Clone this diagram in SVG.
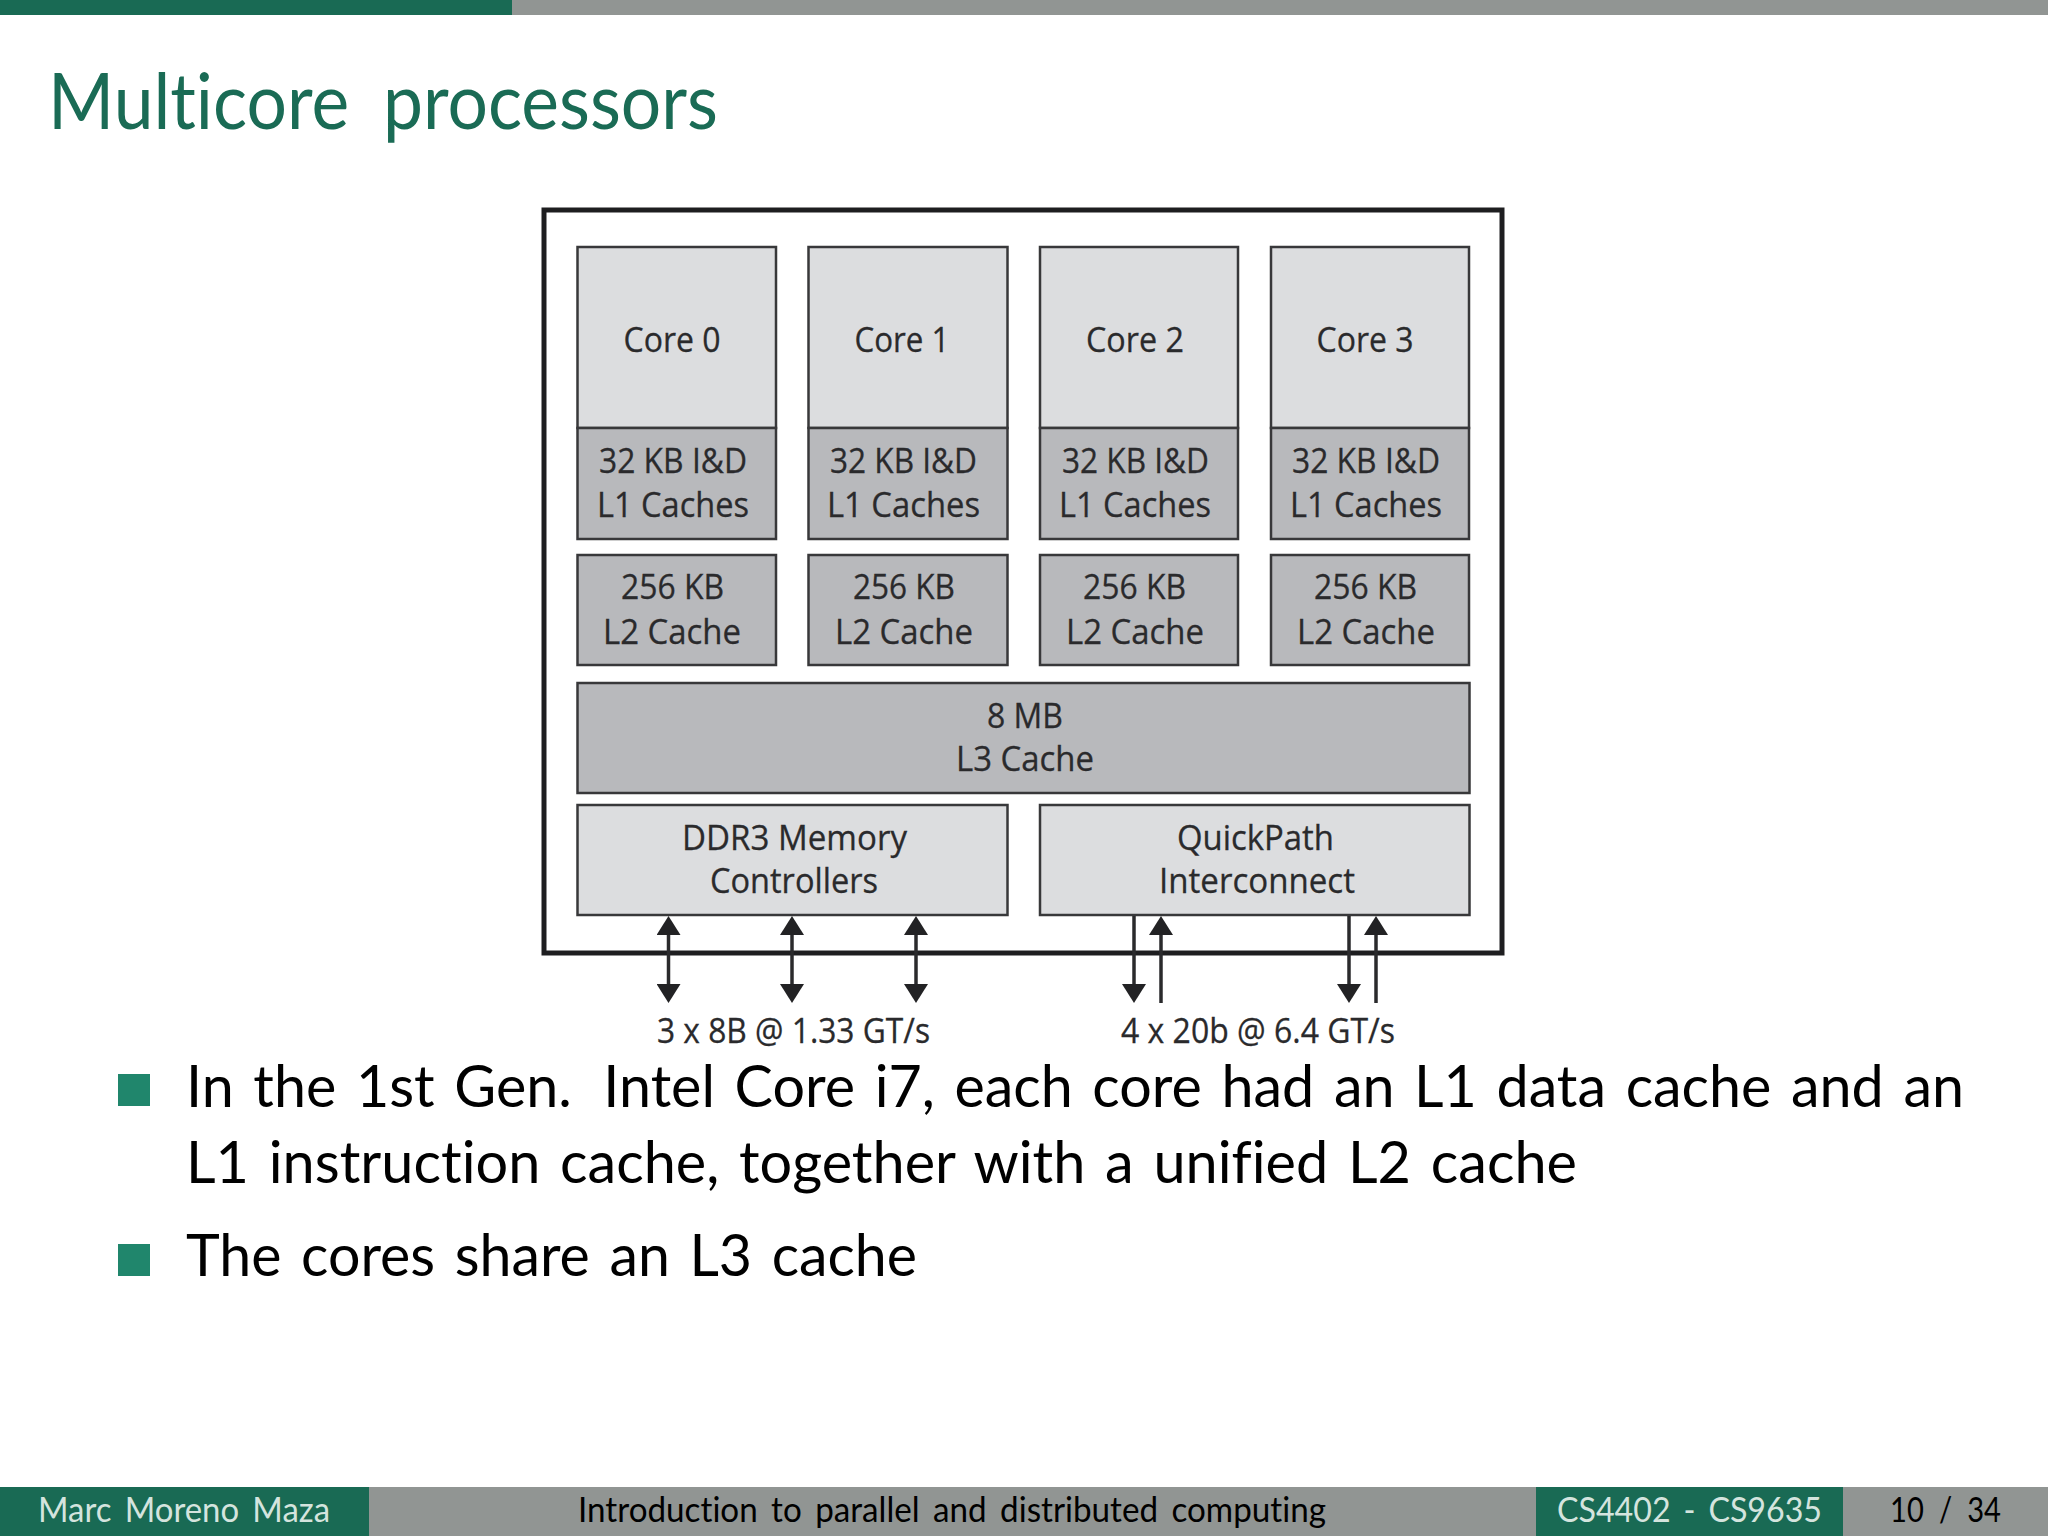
<svg xmlns="http://www.w3.org/2000/svg" width="2048" height="1536" viewBox="0 0 2048 1536">
<style>
text{font-family:"Lato","Open Sans",sans-serif;font-variant-ligatures:none}
.fig{font-family:"Open Sans","Noto Sans",sans-serif;font-size:35px;fill:#2a2a2c;stroke:#2a2a2c;stroke-width:.3}
.lt{fill:#dcdddf;stroke:#38383a;stroke-width:2.5}
.dk{fill:#b8b9bc;stroke:#38383a;stroke-width:2.5}
.body{font-size:58px;fill:#000;word-spacing:5px}
.foot{font-size:34px;word-spacing:5px}
.fw{fill:#d4e4de}
.fk{fill:#000}
.wire{stroke:#2a2a2c;stroke-width:3.5;fill:none}
.bullet{fill:#20866c}
</style>
<defs>
<marker id="head" markerUnits="userSpaceOnUse" markerWidth="24" markerHeight="24" refX="15" refY="12" orient="auto-start-reverse"><path d="M0 0L19 12L0 24z" fill="#222224"/></marker>
</defs>
<rect width="2048" height="1536" fill="#fff"/>
<g id="topbar"><rect x="0" y="0" width="2048" height="15" fill="#919593"/><rect x="0" y="0" width="512" height="15" fill="#196a54"/></g>
<text id="title" x="48" y="129" font-size="78" fill="#1a6b55" style="word-spacing:17px" textLength="670" lengthAdjust="spacingAndGlyphs">Multicore processors</text>
<rect id="chip" x="544" y="210" width="958" height="743" fill="#fff" stroke="#1e1e20" stroke-width="5"/>

<g id="core0"><rect class="lt" x="577.5" y="247" width="198.5" height="181"/><text class="fig" x="623.5" y="352" textLength="97" lengthAdjust="spacingAndGlyphs">Core 0</text></g>
<g id="core1"><rect class="lt" x="808.5" y="247" width="199" height="181"/><text class="fig" x="854.5" y="352" textLength="95" lengthAdjust="spacingAndGlyphs">Core 1</text></g>
<g id="core2"><rect class="lt" x="1040" y="247" width="198" height="181"/><text class="fig" x="1086" y="352" textLength="98" lengthAdjust="spacingAndGlyphs">Core 2</text></g>
<g id="core3"><rect class="lt" x="1271" y="247" width="198" height="181"/><text class="fig" x="1316.5" y="352" textLength="97" lengthAdjust="spacingAndGlyphs">Core 3</text></g>

<g id="l1-0"><rect class="dk" x="577.5" y="428" width="198.5" height="111"/><text class="fig" x="599" y="473" textLength="148" lengthAdjust="spacingAndGlyphs">32 KB I&amp;D</text><text class="fig" x="597" y="517" textLength="152" lengthAdjust="spacingAndGlyphs">L1 Caches</text></g>
<g id="l1-1"><rect class="dk" x="808.5" y="428" width="199" height="111"/><text class="fig" x="830" y="473" textLength="147" lengthAdjust="spacingAndGlyphs">32 KB I&amp;D</text><text class="fig" x="827" y="517" textLength="153" lengthAdjust="spacingAndGlyphs">L1 Caches</text></g>
<g id="l1-2"><rect class="dk" x="1040" y="428" width="198" height="111"/><text class="fig" x="1062" y="473" textLength="147" lengthAdjust="spacingAndGlyphs">32 KB I&amp;D</text><text class="fig" x="1059" y="517" textLength="152" lengthAdjust="spacingAndGlyphs">L1 Caches</text></g>
<g id="l1-3"><rect class="dk" x="1271" y="428" width="198" height="111"/><text class="fig" x="1292" y="473" textLength="148" lengthAdjust="spacingAndGlyphs">32 KB I&amp;D</text><text class="fig" x="1290" y="517" textLength="152" lengthAdjust="spacingAndGlyphs">L1 Caches</text></g>

<g id="l2-0"><rect class="dk" x="577.5" y="555" width="198.5" height="110"/><text class="fig" x="621" y="599" textLength="103" lengthAdjust="spacingAndGlyphs">256 KB</text><text class="fig" x="603" y="644" textLength="138" lengthAdjust="spacingAndGlyphs">L2 Cache</text></g>
<g id="l2-1"><rect class="dk" x="808.5" y="555" width="199" height="110"/><text class="fig" x="853" y="599" textLength="102" lengthAdjust="spacingAndGlyphs">256 KB</text><text class="fig" x="835" y="644" textLength="138" lengthAdjust="spacingAndGlyphs">L2 Cache</text></g>
<g id="l2-2"><rect class="dk" x="1040" y="555" width="198" height="110"/><text class="fig" x="1083" y="599" textLength="103" lengthAdjust="spacingAndGlyphs">256 KB</text><text class="fig" x="1066" y="644" textLength="138" lengthAdjust="spacingAndGlyphs">L2 Cache</text></g>
<g id="l2-3"><rect class="dk" x="1271" y="555" width="198" height="110"/><text class="fig" x="1314" y="599" textLength="103" lengthAdjust="spacingAndGlyphs">256 KB</text><text class="fig" x="1297" y="644" textLength="138" lengthAdjust="spacingAndGlyphs">L2 Cache</text></g>

<g id="l3"><rect class="dk" x="577.5" y="683" width="892" height="110"/><text class="fig" x="987" y="728" textLength="76" lengthAdjust="spacingAndGlyphs">8 MB</text><text class="fig" x="956" y="771" textLength="138" lengthAdjust="spacingAndGlyphs">L3 Cache</text></g>
<g id="memctl"><rect class="lt" x="577.5" y="805" width="430" height="110"/><text class="fig" x="682" y="850" textLength="225" lengthAdjust="spacingAndGlyphs">DDR3 Memory</text><text class="fig" x="710" y="893" textLength="168" lengthAdjust="spacingAndGlyphs">Controllers</text></g>
<g id="qpi"><rect class="lt" x="1040" y="805" width="429.5" height="110"/><text class="fig" x="1177" y="850" textLength="157" lengthAdjust="spacingAndGlyphs">QuickPath</text><text class="fig" x="1159" y="893" textLength="196" lengthAdjust="spacingAndGlyphs">Interconnect</text></g>

<g id="connectors" class="wire">
<line x1="668.5" y1="920" x2="668.5" y2="999" marker-start="url(#head)" marker-end="url(#head)"/>
<line x1="792" y1="920" x2="792" y2="999" marker-start="url(#head)" marker-end="url(#head)"/>
<line x1="916" y1="920" x2="916" y2="999" marker-start="url(#head)" marker-end="url(#head)"/>
<line x1="1134" y1="916" x2="1134" y2="999" marker-end="url(#head)"/>
<line x1="1161" y1="1003" x2="1161" y2="920" marker-end="url(#head)"/>
<line x1="1349" y1="916" x2="1349" y2="999" marker-end="url(#head)"/>
<line x1="1376" y1="1003" x2="1376" y2="920" marker-end="url(#head)"/>
</g>
<g id="linklabels">
<text class="fig" x="657" y="1043" textLength="273" lengthAdjust="spacingAndGlyphs">3 x 8B @ 1.33 GT/s</text>
<text class="fig" x="1121" y="1043" textLength="274" lengthAdjust="spacingAndGlyphs">4 x 20b @ 6.4 GT/s</text>
</g>

<g id="bullets">
<rect class="bullet" x="118" y="1074" width="32" height="32"/>
<text class="body" x="186" y="1107" textLength="1778" lengthAdjust="spacingAndGlyphs">In the 1st Gen. <tspan dx="12">Intel Core i7, each core had an L1 data cache and an</tspan></text>
<text class="body" x="186" y="1183" textLength="1391" lengthAdjust="spacingAndGlyphs">L1 instruction cache, together with a unified L2 cache</text>
<rect class="bullet" x="118" y="1244" width="32" height="32"/>
<text class="body" x="186" y="1276" textLength="731" lengthAdjust="spacingAndGlyphs">The cores share an L3 cache</text>
</g>

<g id="footer">
<rect x="0" y="1487" width="2048" height="49" fill="#919593"/>
<rect x="0" y="1487" width="369" height="49" fill="#196a54"/>
<rect x="1536" y="1487" width="307" height="49" fill="#196a54"/>
<text class="foot fw" x="38" y="1522" textLength="292" lengthAdjust="spacingAndGlyphs">Marc Moreno Maza</text>
<text class="foot fk" x="578" y="1522" textLength="748" lengthAdjust="spacingAndGlyphs">Introduction to parallel and distributed computing</text>
<text class="foot fw" x="1557" y="1522" textLength="265" lengthAdjust="spacingAndGlyphs">CS4402 - CS9635</text>
<text class="foot fk" x="1890" y="1522" style="word-spacing:9px" textLength="111" lengthAdjust="spacingAndGlyphs">10 / 34</text>
</g>
</svg>
